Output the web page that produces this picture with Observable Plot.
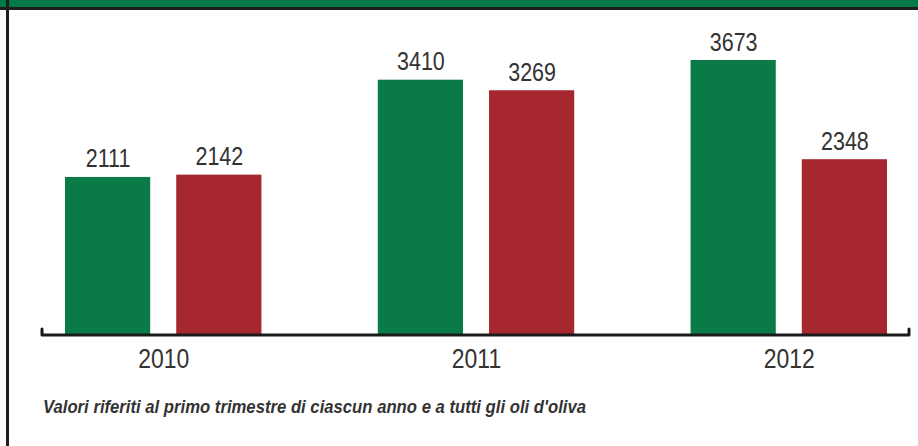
<!DOCTYPE html>
<html>
<head>
<meta charset="utf-8">
<script src="https://cdn.jsdelivr.net/npm/d3@7"></script>
<script src="https://cdn.jsdelivr.net/npm/@observablehq/plot@0.6"></script>
<style>
  html, body { margin: 0; padding: 0; background: #fff; }
  #wrap { position: relative; width: 918px; height: 446px; overflow: hidden; background: #fff; }
  #band { position: absolute; left: 0; top: 0; width: 918px; height: 7px; background: #007a47; }
  #bandline { position: absolute; left: 0; top: 7px; width: 918px; height: 3px; background: #1e1e1e; }
  #leftline { position: absolute; left: 6px; top: 0; width: 2.5px; height: 446px; background: #1e1e1e; }
  #chart { position: absolute; left: 0; top: 0; }
  #caption { position: absolute; left: 43px; top: 398px; font-family: "Liberation Sans", Arial, sans-serif;
             font-style: italic; font-weight: bold; font-size: 18px; line-height: 1; color: #333; white-space: nowrap;
             transform-origin: 0 0; }
  #chart svg [aria-label^="fx-axis"] text { font-size: 28px; fill: #333; }
</style>
</head>
<body>
<div id="wrap">
  <div id="chart"></div>
  <div id="band"></div>
  <div id="bandline"></div>
  <div id="leftline"></div>
  <div id="caption"></div>
</div>
<script>
// ---- data ----
const years = ["2010", "2011", "2012"];
const seriesNames = ["A", "B"];
const seriesA = [2111, 3410, 3673];   // green bars
const seriesB = [2142, 3269, 2348];   // red bars
const colors = ["#0a7b47", "#a7272f"];
const captionText = "Valori riferiti al primo trimestre di ciascun anno e a tutti gli oli d'oliva";

const rows = years.flatMap((y, i) => [
  {year: y, series: seriesNames[0], value: seriesA[i]},
  {year: y, series: seriesNames[1], value: seriesB[i]}
]);

const plot = Plot.plot({
  width: 918,
  height: 380,
  marginLeft: 65,
  marginRight: 31,
  marginTop: 60,
  marginBottom: 45,
  style: {fontFamily: "'Liberation Sans', Arial, sans-serif", background: "transparent", overflow: "visible", color: "#333"},
  facet: {data: rows, x: "year"},
  fx: {domain: years, paddingInner: 0.372, paddingOuter: 0, round: false, label: null, axis: "bottom", tickSize: 0, tickPadding: 13},
  x: {domain: seriesNames, paddingInner: 0.234, paddingOuter: 0, round: false, axis: null},
  y: {domain: [0, d3.max(rows, d => d.value)], axis: null},
  color: {domain: seriesNames, range: colors},
  marks: [
    Plot.barY(rows, {x: "series", y: "value", fill: "series"}),
    Plot.text(rows, {x: "series", y: "value", text: d => String(d.value), dy: -10, lineAnchor: "bottom", fontSize: 25, fill: "#333"})
  ]
});
document.getElementById("chart").appendChild(plot);
const cap = document.getElementById("caption");
cap.textContent = captionText;

const svgNode = plot.tagName.toLowerCase() === "svg" ? plot : plot.querySelector("svg");
const svg = d3.select(svgNode);

// condensed look: compress glyphs horizontally
function condense(sel, factor) {
  sel.each(function () {
    const w = this.getComputedTextLength();
    if (w > 0) {
      this.setAttribute("textLength", (w * factor).toFixed(1));
      this.setAttribute("lengthAdjust", "spacingAndGlyphs");
    }
  });
}
condense(svg.selectAll('g[aria-label="text"] text'), 0.86);
condense(svg.selectAll('[aria-label^="fx-axis"] text'), 0.82);
const cw = cap.getBoundingClientRect().width;
if (cw > 0) cap.style.transform = `scaleX(${(543 / cw).toFixed(3)})`;

// baseline with upturned ends, positioned from the plot's own scales
const y0 = plot.scale("y").apply(0);
const fxR = plot.scale("fx").range;
const left = fxR[0] - 23, right = fxR[1] + 22;
svg.append("path")
  .attr("d", `M${left},${y0 - 6}L${left},${y0}L${right},${y0}L${right},${y0 - 6}`)
  .attr("fill", "none").attr("stroke", "#1a1a1a").attr("stroke-width", 3)
  .attr("stroke-linejoin", "round").attr("stroke-linecap", "round");
</script>
</body>
</html>
